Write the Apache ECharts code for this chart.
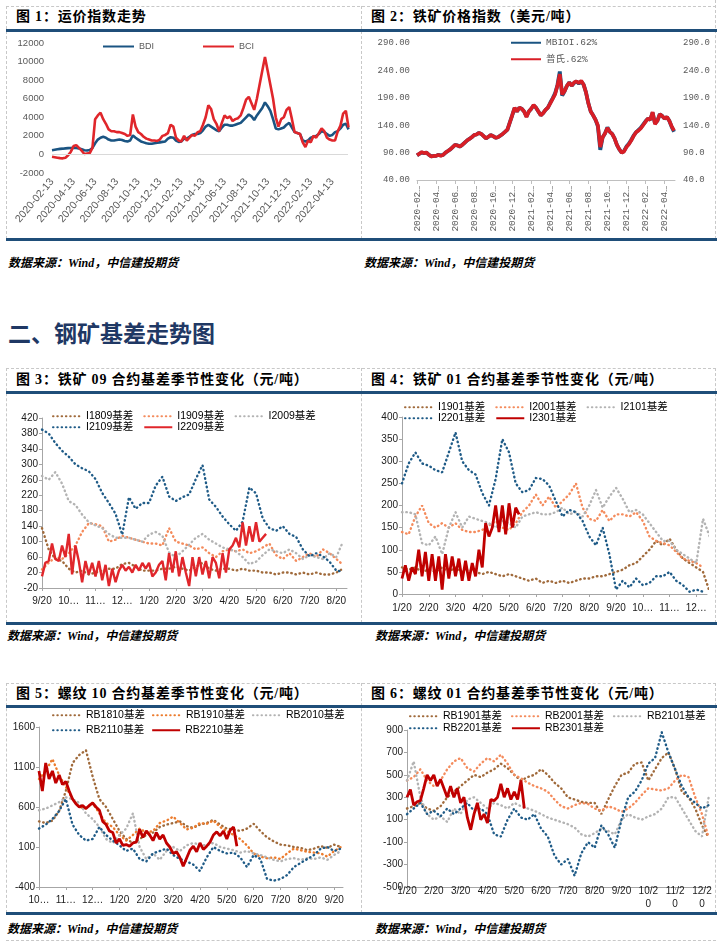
<!DOCTYPE html>
<html>
<head>
<meta charset="utf-8">
<script src="https://cdn.jsdelivr.net/npm/echarts@6/dist/echarts.min.js"></script>
<style>
body{margin:0;background:#fff;}
#page{position:relative;width:725px;height:943px;overflow:hidden;font-family:"Liberation Serif","Noto Sans CJK SC",serif;}
.dh{position:absolute;height:0;border-top:1px dashed #c8c8c8;}
.dv{position:absolute;width:0;border-left:1px dashed #c8c8c8;}
.rule{position:absolute;height:3px;background:#1f4e79;}
.ttl{position:absolute;font-weight:bold;font-size:14px;letter-spacing:0.8px;color:#000;white-space:nowrap;line-height:18px;}
.src{position:absolute;font-weight:bold;font-style:italic;font-size:12px;color:#000;white-space:nowrap;line-height:14px;}
.sec{position:absolute;left:8px;top:318px;font-family:"Noto Sans CJK SC",sans-serif;font-weight:bold;font-size:23px;color:#1f3864;line-height:28px;}
.ch{position:absolute;}
</style>
</head>
<body>
<div id="page">
  <!-- row 1 frame -->
  <div class="dh" style="left:6px;top:6px;width:710px"></div>
  <div class="dv" style="left:6px;top:6px;height:233px"></div>
  <div class="dv" style="left:361px;top:6px;height:233px"></div>
  <div class="dv" style="left:715px;top:0px;height:239px"></div>
  <div class="rule" style="left:6px;top:29px;width:711px"></div>
  <div class="rule" style="left:6px;top:238px;width:711px"></div>
  <div class="ttl" style="left:16px;top:8px">图 1：运价指数走势</div>
  <div class="ttl" style="left:371px;top:8px">图 2：铁矿价格指数（美元/吨）</div>
  <div class="src" style="left:8px;top:256px">数据来源：Wind，中信建投期货</div>
  <div class="src" style="left:364px;top:256px">数据来源：Wind，中信建投期货</div>

  <div class="sec">二、钢矿基差走势图</div>

  <!-- row 2 frame -->
  <div class="dh" style="left:6px;top:368px;width:710px"></div>
  <div class="dv" style="left:6px;top:368px;height:255px"></div>
  <div class="dv" style="left:361px;top:368px;height:255px"></div>
  <div class="dv" style="left:715px;top:368px;height:255px"></div>
  <div class="rule" style="left:6px;top:391px;width:711px"></div>
  <div class="rule" style="left:6px;top:622px;width:711px"></div>
  <div class="ttl" style="left:16px;top:371px">图 3：铁矿 09 合约基差季节性变化（元/吨）</div>
  <div class="ttl" style="left:371px;top:371px">图 4：铁矿 01 合约基差季节性变化（元/吨）</div>
  <div class="src" style="left:7px;top:629px">数据来源：Wind，中信建投期货</div>
  <div class="src" style="left:375px;top:629px">数据来源：Wind，中信建投期货</div>

  <!-- row 3 frame -->
  <div class="dh" style="left:6px;top:683px;width:710px"></div>
  <div class="dv" style="left:6px;top:683px;height:230px"></div>
  <div class="dv" style="left:361px;top:683px;height:230px"></div>
  <div class="dv" style="left:715px;top:683px;height:230px"></div>
  <div class="rule" style="left:6px;top:705px;width:711px"></div>
  <div class="rule" style="left:6px;top:912px;width:711px"></div>
  <div class="ttl" style="left:16px;top:685px">图 5：螺纹 10 合约基差季节性变化（元/吨）</div>
  <div class="ttl" style="left:371px;top:685px">图 6：螺纹 01 合约基差季节性变化（元/吨）</div>
  <div class="src" style="left:7px;top:922px">数据来源：Wind，中信建投期货</div>
  <div class="src" style="left:375px;top:922px">数据来源：Wind，中信建投期货</div>
  <div class="dh" style="left:6px;top:940px;width:710px"></div>

  <div id="c1" class="ch" style="left:6px;top:31px;width:355px;height:207px"></div>
  <div id="c2" class="ch" style="left:362px;top:31px;width:354px;height:207px"></div>
  <div id="c3" class="ch" style="left:6px;top:394px;width:355px;height:228px"></div>
  <div id="c4" class="ch" style="left:362px;top:394px;width:354px;height:228px"></div>
  <div id="c5" class="ch" style="left:6px;top:708px;width:355px;height:204px"></div>
  <div id="c6" class="ch" style="left:362px;top:708px;width:354px;height:204px"></div>
</div>
<script>
// ---- 图1 运价指数 (weekly, step 0.25 month from 2020-02-13)
var bdi = [450,500,550,600, 620,650,680,700, 720,700,650,550, 450,420,480,700,
  1200,1600,1800,1900, 1800,1600,1500,1500, 1550,1600,1550,1450, 1400,1500,2050,1800,
  1600,1400,1300,1200, 1150,1150,1200,1250, 1300,1350,1400,1700, 1850,1800,1500,1350,
  1400,1700,1700,1900, 2100,2200,2200,2300, 2600,3000,3200,3000, 2800,2600,2500,2900,
  3200,3200,3100,3100, 3200,3300,3400,3700, 4000,4300,4100,3700, 4200,4600,5000,5600,
  5200,4700,3800,2800, 2700,2800,2900,3200, 3400,2900,2400,2300, 2200,1500,1400,1500,
  1800,1900,2000,2200, 2500,2400,2200,2000, 2100,2400,2500,2800, 3200,3300,2700];
var bci = [-250,-300,-350,-400, -420,-350,-100,300, 900,1000,700,400, 50,100,150,700,
  3800,4200,4500,3800, 3300,2700,2500,2500, 2400,2400,2300,2200, 2000,2100,4300,3000,
  2400,2200,1900,1700, 1600,1500,1500,1450, 1600,2000,2100,2300, 3200,3000,1800,1500,
  1400,2000,1500,1800, 2100,2000,2400,2500, 3200,4000,5300,4900, 3800,3300,2500,3400,
  4200,3900,4100,3600, 3800,3900,4200,5000, 5900,6200,5500,4800, 6000,7500,9000,10500,
  9000,7500,6000,4000, 3000,3800,4000,4800, 5100,3800,2400,2300, 2200,1300,800,1500,
  1300,2000,1800,2300, 2800,2500,1800,1600, 1500,1500,2500,3100, 4400,4700,2900];
var ticks1 = ['2020-02-13','2020-04-13','2020-06-13','2020-08-13','2020-10-13','2020-12-13','2021-02-13',
  '2021-04-13','2021-06-13','2021-08-13','2021-10-13','2021-12-13','2022-02-13','2022-04-13'];

// ---- 图2 铁矿价格指数
var mbioi = [85,88,90,89, 90,86,83,84, 84,86,85,86, 90,93,96,100, 104,103,101,104, 108,112,115,118,
  122,123,126,124, 120,116,119,122, 120,117,118,121, 124,128,132,145, 158,171,165,172, 170,165,156,165,
  170,176,172,165, 158,162,168,172, 181,189,198,213, 238,194,202,212, 218,212,217,220, 216,220,214,200,
  180,165,158,150, 138,95,118,125, 136,128,124,116, 104,96,90,93, 101,106,113,121, 127,131,135,141,
  147,152,150,163, 143,148,160,157, 152,155,148,137, 128];
var platts = [85,88,91,89, 90,86,83,84, 84,86,84,86, 90,93,96,100, 104,103,101,104, 108,112,115,118,
  122,123,126,124, 120,116,119,122, 120,117,118,121, 124,128,132,145, 158,172,165,172, 170,165,155,165,
  170,177,172,165, 158,162,168,172, 180,188,196,212, 233,196,202,212, 218,212,218,220, 217,221,214,200,
  180,165,158,150, 140,100,118,125, 135,128,124,116, 104,96,90,92, 100,105,112,120, 127,130,134,140,
  146,152,150,164, 142,148,160,157, 152,155,148,138, 130];
var ticks2 = ['2020-02…','2020-04…','2020-06…','2020-08…','2020-10…','2020-12…','2021-02…',
  '2021-04…','2021-06…','2021-08…','2021-10…','2021-12…','2022-02…','2022-04…'];

// ---- 图3 铁矿09基差 (weekly from 9/20; current contract every ~4 days)
var months09 = ['9/20','10…','11…','12…','1/20','2/20','3/20','4/20','5/20','6/20','7/20','8/20'];
var i1809 = [135,80,55,50, 30,20,25,15, 20,25,30,30, 42,45,35,25, 25,25,30,30, 35,30,25,35,
  45,30,25,30, 30,25,30,25, 25,20,20,15, 20,20,15,20, 15,20,15,15, 20,30];
var i1909 = [28,45,60,55, 70,90,125,148, 145,140,100,105, 115,110,105,100, 95,95,90,135, 100,95,90,80,
  85,70,60,75, 80,75,80,70, 75,85,95,65, 55,70,50,60, 70,60,80,70, 55,40];
var i2009 = [270,260,280,250, 205,195,170,150, 142,135,120,110, 110,110,105,100, 118,125,115,72, 60,75,92,110,
  120,105,95,85, 80,75,60,42, 48,65,80,75, 70,80,70,55, 65,60,55,70, 60,100];
var i2109 = [390,380,355,335, 320,300,290,282, 262,226,200,172, 118,215,185,200, 200,245,268,217, 205,215,222,262,
  298,209,190,165, 145,128,152,240, 225,160,135,128, 140,120,112,80, 62,70,62,48, 25,22];
var i2209 = [10,45,50,95,55,50,90,60, 120,15,90,50,-5,50,15,45, 10,50,0,40,-15,30,-5,25,
  40,25,35,20,40,25,45,30, 45,10,20,40,50,0,70,20, 75,10,60,20,-15,60,10,60,
  15,50,5,60,45,5,70,20, 80,90,110,85,150,90,140,100, 150,100,110,120];

// ---- 图4 铁矿01基差 (from 1/20)
var months01 = ['1/20','2/20','3/20','4/20','5/20','6/20','7/20','8/20','9/20','10…','11…','12…'];
var i1901 = [60,55,60,50, 55,50,60,50, 60,50,55,50, 45,50,45,40, 45,40,35,30, 35,25,30,25,
  30,25,30,35, 35,40,40,45, 50,55,65,70, 85,100,120,110, 125,100,80,70, 60,50,5];
var i2001 = [140,135,175,200, 160,150,160,150, 160,145,140,140, 145,155,165,150, 145,160,185,200, 225,200,220,195,
  210,225,250,195, 170,165,190,165, 180,180,175,185, 165,130,120,115, 110,95,80,75, 70,60];
var i2101 = [185,185,180,115, 110,130,90,150, 185,150,175,170, 165,160,150,165, 160,150,175,180, 185,180,180,185,
  195,180,185,175, 200,235,195,220, 240,215,185,190, 180,160,140,120, 120,100,90,80, 70,170,130];
var i2201 = [250,295,320,295, 290,280,275,320, 365,300,280,270, 228,200,260,350, 320,250,230,235, 262,260,245,210,
  175,190,185,165, 130,110,150,90, 10,30,15,35, 20,25,40,40, 50,30,20,5, 10,5];
var i2301 = [35,65,30,60,45,100,40,95, 30,90,30,85,10,90,35,85, 40,80,30,75,30,70,40,100,
  60,160,130,150,200,140,200,135, 205,150,195,180];

// ---- 图5 螺纹10基差 (from 10/20)
var months10 = ['10…','11…','12…','1/20','2/20','3/20','4/20','5/20','6/20','7/20','8/20','9/20'];
var rb1810 = [420,400,430,550, 800,1150,1250,1310, 980,700,600,450, 300,200,150,200, 250,280,350,380, 400,420,360,340,
  380,400,440,380, 330,320,300,330, 390,300,220,170, 130,120,100,90, 60,80,110,90, 130,100];
var rb1910 = [950,1050,1200,1000, 850,700,600,580, 650,520,400,350, 250,180,250,330, 280,300,400,430, 480,400,320,340,
  400,390,430,350, 300,250,200,120, 20,-20,-40,-30, -50,20,80,60, 40,30,20,-20, 50,100];
var rb2010 = [560,580,620,660, 720,700,650,520, 450,350,200,150, 250,330,520,100, -50,20,-60,50, 100,50,120,150,
  130,120,150,100, 80,60,30,50, 20,0,-30,-60, -80,-50,-40,-60, -40,-50,-30,-60, 0,50];
var rb2110 = [330,380,450,550, 700,380,250,180, 200,350,250,180, 120,50,80,-50, -80,20,50,80, 0,-50,-80,-120,
  -200,-30,100,50, 20,30,-30,-150, 0,-50,-300,-320, -300,-250,-150,-100, -50,0,80,100, 50,80];
var rb2210 = [1050,800,1150,950,1050,900,1000,880, 920,800,700,640,600,620,580,620, 650,600,560,420,380,300,280,150,
  200,120,130,110,150,160,320,220, 300,250,180,280,200,250,150,100, 20,40,-30,-140,-40,60,110,40,
  150,70,110,160,250,290,240,300, 200,310,350,110];

// ---- 图6 螺纹01基差 (from 1/20)
var months01b = ['1/20','2/20','3/20','4/20','5/20','6/20','7/20','8/20','9/20','10/2\n0','11/2\n0','12/2\n0'];
var rb1901 = [200,220,250,200, 180,220,300,350, 400,450,500,480, 520,550,600,560, 500,450,480,500, 550,500,430,380,
  300,280,260,250, 250,150,280,400, 500,520,600,610, 450,550,650,700, 550,350,300,200, 50,-60];
var rb2001 = [450,480,550,450, 400,450,550,620, 650,560,530,600, 650,620,680,600, 500,470,430,400, 380,350,280,220,
  200,230,250,240, 200,180,220,200, 170,200,250,320, 380,370,360,380, 450,500,480,300, 150,-60];
var rb2101 = [450,620,300,150, 100,130,80,200, 150,280,300,250, 200,250,230,200, 250,220,200,180, 150,120,100,80,
  60,30,-30,-50, -20,20,0,-30, 100,150,120,100, 130,150,200,300, 300,200,100,0, -50,300];
var rb2201 = [150,200,250,150, 180,130,200,150, 200,250,180,200, 150,-30,-50,100, 200,120,100,150, 20,-50,-220,-300,
  -250,-400,-200,-100, -150,50,-30,-150, 100,300,350,450, 600,650,880,700, 550,400,300,250, 200,230];
var rb2301 = [300,370,230,260,270,380,500,450, 500,400,460,380,300,400,300,380, 250,300,120,10,150,250,100,150,
  70,280,270,300,420,300,380,280, 350,280,450,200];

var BLUE = '#1f5b87', BROWN = '#a06a3b', ORANGE = '#f48b5c', ORANGE2 = '#ec7c2e',
    GRAY = '#b3b3b3', RED = '#e0262b', DARKRED = '#c00000';
var NAVY = '#1a5482';

// values sampled at a fixed step (in months) -> [x, y] pairs
function pts(vals, step) {
  return vals.map(function (v, i) { return [i * step, v]; });
}
function idx(n) {
  var a = [];
  for (var k = 0; k < n; k++) a.push(k);
  return a;
}
function plain(v) { return String(v); }
function dotted(name, color, vals) {
  return {
    name: name, type: 'line', data: pts(vals, 0.25), symbol: 'none',
    lineStyle: { color: color, width: 2.4, type: [0.5, 3.8], cap: 'round' },
    itemStyle: { color: color }
  };
}
function solid(name, color, vals, w) {
  return {
    name: name, type: 'line', data: pts(vals, 0.125), symbol: 'none',
    lineStyle: { color: color, width: w || 2.5 },
    itemStyle: { color: color }
  };
}

var labelFont = 'Liberation Sans, Noto Sans CJK SC, sans-serif';
// legend shows the line only, no marker
var noMarker = { opacity: 0 };

// ---------- 图1
var c1 = echarts.init(document.getElementById('c1'));
c1.setOption({
  animation: false,
  grid: { left: 46, top: 12, width: 296, height: 130 },
  legend: {
    data: ['BDI', 'BCI'], left: 96, top: 11, padding: 0, itemWidth: 31, itemHeight: 8, itemGap: 48,
    itemStyle: noMarker,
    textStyle: { color: '#595959', fontSize: 9, fontFamily: labelFont }
  },
  xAxis: {
    type: 'value', min: 0, max: 27.45,
    axisLine: { show: false }, axisTick: { show: false }, splitLine: { show: false },
    axisLabel: {
      customValues: idx(ticks1.length).map(function (k) { return k * 2; }),
      formatter: function (v) { return ticks1[Math.round(v / 2)]; },
      rotate: 50, fontSize: 10.5, color: '#595959', margin: 7, fontFamily: labelFont
    }
  },
  yAxis: {
    type: 'value', min: -2000, max: 12000, interval: 2000,
    axisLine: { show: false }, axisTick: { show: false }, splitLine: { show: false },
    axisLabel: { color: '#595959', fontSize: 9.5, margin: 8, fontFamily: labelFont, formatter: plain }
  },
  series: [
    {
      name: 'BDI', type: 'line', data: pts(bdi, 0.25), symbol: 'none',
      lineStyle: { color: NAVY, width: 2.6 }, itemStyle: { color: NAVY },
      markLine: {
        silent: true, symbol: 'none', label: { show: false },
        lineStyle: { color: '#d9d9d9', type: 'solid', width: 1 }, data: [{ yAxis: 0 }]
      }
    },
    {
      name: 'BCI', type: 'line', data: pts(bci, 0.25), symbol: 'none',
      lineStyle: { color: RED, width: 2.6 }, itemStyle: { color: RED }
    }
  ]
});

// ---------- 图2
var monoFont = 'Liberation Mono, DejaVu Sans Mono, monospace';
var ticksY2 = [40, 90, 140, 190, 240, 290];
var c2 = echarts.init(document.getElementById('c2'));
c2.setOption({
  animation: false,
  grid: { left: 55, top: 12, width: 258, height: 137 },
  legend: {
    data: ['MBIOI.62%', '普氏.62%'], orient: 'vertical', left: 148, top: 7, padding: 0,
    itemWidth: 30, itemHeight: 8, itemGap: 7, itemStyle: noMarker,
    textStyle: { color: '#595959', fontSize: 9.5, fontFamily: monoFont + ', Noto Sans CJK SC' }
  },
  xAxis: {
    type: 'value', min: 0, max: 27.1, splitLine: { show: false },
    axisLine: { show: true, lineStyle: { color: '#bfbfbf' } },
    axisTick: { show: true, length: 4, lineStyle: { color: '#bfbfbf' },
      customValues: idx(ticks2.length).map(function (k) { return k * 2; }) },
    axisLabel: {
      customValues: idx(ticks2.length).map(function (k) { return k * 2; }),
      formatter: function (v) { return ticks2[Math.round(v / 2)]; },
      rotate: 90, fontSize: 9.5, color: '#595959', margin: 6, fontFamily: monoFont
    }
  },
  yAxis: [
    {
      type: 'value', min: 40, max: 290, splitLine: { show: false },
      axisLine: { show: false }, axisTick: { show: false },
      axisLabel: { customValues: ticksY2, formatter: function (v) { return v.toFixed(2); },
        color: '#595959', fontSize: 9, margin: 7, fontFamily: monoFont }
    },
    {
      type: 'value', min: 40, max: 290, position: 'right', splitLine: { show: false },
      axisLine: { show: false }, axisTick: { show: false },
      axisLabel: { customValues: ticksY2, formatter: function (v) { return v.toFixed(1); },
        color: '#595959', fontSize: 9, margin: 8, fontFamily: monoFont }
    }
  ],
  series: [
    { name: 'MBIOI.62%', type: 'line', data: pts(mbioi, 0.25), symbol: 'none',
      lineStyle: { color: NAVY, width: 3.8 }, itemStyle: { color: NAVY } },
    { name: '普氏.62%', type: 'line', data: pts(platts, 0.25), symbol: 'none',
      lineStyle: { color: '#d81e26', width: 3.6 }, itemStyle: { color: '#d81e26' } }
  ]
});

// ---------- seasonal basis charts
function seasonal(id, cfg) {
  var chart = echarts.init(document.getElementById(id));
  var legText = { color: '#000', fontSize: 10.5, fontFamily: labelFont };
  chart.setOption({
    animation: false,
    grid: cfg.grid,
    legend: [
      { data: cfg.names.slice(0, 3), left: cfg.legLeft, top: cfg.legTop[0], padding: 0,
        itemWidth: 28, itemHeight: 8, itemGap: cfg.gap, itemStyle: noMarker, textStyle: legText },
      { data: cfg.names.slice(3), left: cfg.legLeft, top: cfg.legTop[1], padding: 0,
        itemWidth: 28, itemHeight: 8, itemGap: cfg.gap, itemStyle: noMarker, textStyle: legText }
    ],
    xAxis: {
      type: 'value', min: 0, max: cfg.xMax, splitLine: { show: false },
      axisLine: { onZero: false, lineStyle: { color: '#a6a6a6' } },
      axisTick: { show: true, length: 3, lineStyle: { color: '#a6a6a6' }, customValues: idx(12) },
      axisLabel: {
        customValues: idx(12),
        formatter: function (v) { return cfg.months[Math.round(v)]; },
        color: '#1a1a1a', fontSize: 10, margin: cfg.xMargin, fontFamily: labelFont, lineHeight: 13
      }
    },
    yAxis: {
      type: 'value', min: cfg.yTicks[0], max: cfg.yTicks[cfg.yTicks.length - 1], splitLine: { show: false },
      axisLine: { show: true, lineStyle: { color: '#a6a6a6' } },
      axisTick: { show: true, length: 3, lineStyle: { color: '#a6a6a6' }, customValues: cfg.yTicks },
      axisLabel: { customValues: cfg.yTicks, color: '#1a1a1a', fontSize: 10, margin: 4,
        fontFamily: labelFont, formatter: plain }
    },
    series: cfg.series
  });
}

var yTicks3 = [-20, 20, 60, 100, 140, 180, 220, 260, 300, 340, 380, 420];
seasonal('c3', {
  grid: { left: 36, top: 24, width: 305, height: 170 },
  names: ['I1809基差', 'I1909基差', 'I2009基差', 'I2109基差', 'I2209基差'],
  legLeft: 46, legTop: [17, 28], gap: 10, xMax: 11.4, xMargin: 7,
  months: months09, yTicks: yTicks3,
  series: [
    dotted('I1809基差', BROWN, i1809),
    dotted('I1909基差', ORANGE, i1909),
    dotted('I2009基差', GRAY, i2009),
    dotted('I2109基差', BLUE, i2109),
    solid('I2209基差', RED, i2209, 2.4)
  ]
});

var yTicks4 = [0, 50, 100, 150, 200, 250, 300, 350, 400];
seasonal('c4', {
  grid: { left: 40, top: 23, width: 305, height: 177 },
  names: ['I1901基差', 'I2001基差', 'I2101基差', 'I2201基差', 'I2301基差'],
  legLeft: 42, legTop: [8, 19], gap: 10, xMax: 11.4, xMargin: 8,
  months: months01, yTicks: yTicks4,
  series: [
    dotted('I1901基差', BROWN, i1901),
    dotted('I2001基差', ORANGE, i2001),
    dotted('I2101基差', GRAY, i2101),
    dotted('I2201基差', BLUE, i2201),
    solid('I2301基差', DARKRED, i2301, 2.8)
  ]
});

var yTicks5 = [-400, 100, 600, 1100, 1600];
seasonal('c5', {
  grid: { left: 33, top: 19, width: 304, height: 160 },
  names: ['RB1810基差', 'RB1910基差', 'RB2010基差', 'RB2110基差', 'RB2210基差'],
  legLeft: 46, legTop: [2, 17], gap: 7, xMax: 11.33, xMargin: 7,
  months: months10, yTicks: yTicks5,
  series: [
    dotted('RB1810基差', BROWN, rb1810),
    dotted('RB1910基差', ORANGE2, rb1910),
    dotted('RB2010基差', GRAY, rb2010),
    dotted('RB2110基差', BLUE, rb2110),
    solid('RB2210基差', DARKRED, rb2210, 2.8)
  ]
});

var yTicks6 = [-500, -300, -100, 100, 300, 500, 700, 900];
seasonal('c6', {
  grid: { left: 45, top: 22, width: 303, height: 157 },
  names: ['RB1901基差', 'RB2001基差', 'RB2101基差', 'RB2201基差', 'RB2301基差'],
  legLeft: 47, legTop: [3, 15], gap: 9, xMax: 11.3, xMargin: -2,
  months: months01b, yTicks: yTicks6,
  series: [
    dotted('RB1901基差', BROWN, rb1901),
    dotted('RB2001基差', ORANGE, rb2001),
    dotted('RB2101基差', GRAY, rb2101),
    dotted('RB2201基差', BLUE, rb2201),
    solid('RB2301基差', DARKRED, rb2301, 2.8)
  ]
});
</script>
</body>
</html>
